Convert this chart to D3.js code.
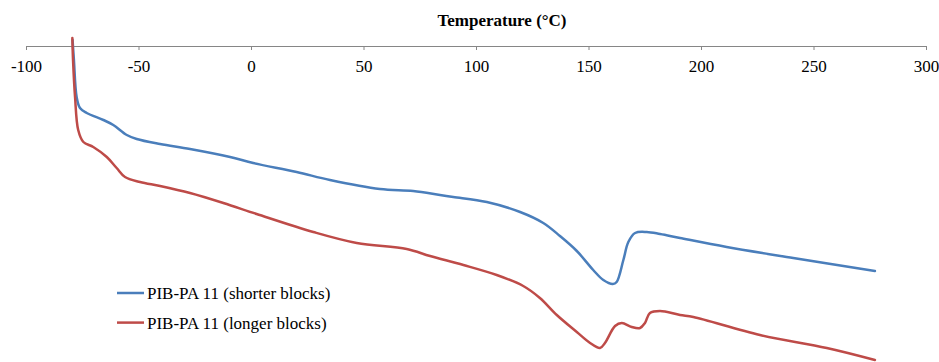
<!DOCTYPE html>
<html>
<head>
<meta charset="utf-8">
<script src="https://cdn.jsdelivr.net/npm/d3@7"></script>
<style>
  html, body { margin: 0; padding: 0; background: #fff; }
  svg { display: block; }
</style>
</head>
<body>
<svg id="chart" width="939" height="362"></svg>
<script>
// DSC traces: temperature (°C) vs. heat flow (arbitrary units, endo down)
const shorterTemp = [-79.3, -78.7, -77.5, -76, -73, -65.6, -61.2, -55.2, -50.8, -40.4, -27.1, -9.3, 1.0, 20.3, 35.1, 57.3, 72.1, 84, 89.9, 104.8, 119.6, 129.9, 137.3, 144.8, 152.1, 156.6, 160.8, 162.5, 165.5, 167.7, 170.7, 175.9, 181.8, 190.7, 211.4, 241, 277.3];
const shorterFlow = [0.06, -0.14, -0.51, -0.62, -0.67, -0.74, -0.79, -0.89, -0.93, -0.98, -1.03, -1.11, -1.17, -1.26, -1.34, -1.43, -1.45, -1.49, -1.51, -1.56, -1.66, -1.77, -1.90, -2.05, -2.24, -2.34, -2.38, -2.36, -2.14, -1.96, -1.87, -1.86, -1.88, -1.92, -2.01, -2.12, -2.25];

const longerTemp = [-79.4, -79.1, -78.2, -76.8, -74.5, -70.1, -64.1, -59.7, -56, -49.3, -40.4, -27.1, -12.3, 2.5, 27.7, 47, 69.2, 79.6, 94.4, 109.2, 121, 128.4, 135.9, 144.8, 150.7, 155.1, 157.3, 161.8, 164.8, 169.2, 172.9, 175.1, 177.3, 181.8, 190.7, 196.6, 226.2, 255.9, 277.3];
const longerFlow = [0.08, -0.14, -0.51, -0.84, -0.96, -1.01, -1.11, -1.22, -1.31, -1.36, -1.40, -1.47, -1.57, -1.68, -1.86, -1.97, -2.03, -2.10, -2.19, -2.29, -2.40, -2.52, -2.69, -2.86, -2.97, -3.02, -2.97, -2.80, -2.77, -2.81, -2.82, -2.77, -2.67, -2.65, -2.69, -2.71, -2.89, -3.02, -3.14];

const tempTicks = [-100, -50, 0, 50, 100, 150, 200, 250, 300];
const seriesNames = ["PIB-PA 11 (shorter blocks)", "PIB-PA 11 (longer blocks)"];
const seriesColors = ["#4a7ebb", "#be4b48"];

const SERIF = "Liberation Serif";
const svg = d3.select("#chart");

const x = d3.scaleLinear().domain([-100, 300]).range([26, 926]);
const y = d3.scaleLinear().domain([0, -3.16]).range([46, 362]);

// Top temperature axis
const axis = d3.axisBottom(x)
  .tickValues(tempTicks)
  .tickFormat(d => d < 0 ? "-" + Math.abs(d) : String(d))
  .tickSizeInner(4)
  .tickSizeOuter(0)
  .tickPadding(10);

const gAxis = svg.append("g")
  .attr("transform", `translate(0,${y(0)})`)
  .call(axis);
gAxis.select(".domain").attr("stroke", "#868686").attr("stroke-width", 1);
gAxis.selectAll(".tick line").attr("stroke", "#868686");
gAxis.selectAll(".tick text")
  .attr("fill", "#000")
  .style("font-family", SERIF)
  .style("font-size", "17px");

svg.append("text")
  .attr("x", 502)
  .attr("y", 26)
  .attr("text-anchor", "middle")
  .style("font-family", SERIF)
  .style("font-size", "17px")
  .style("font-weight", "bold")
  .text("Temperature (°C)");

// Traces
const series = [
  shorterTemp.map((t, i) => [t, shorterFlow[i]]),
  longerTemp.map((t, i) => [t, longerFlow[i]])
];

const line = d3.line()
  .x(d => x(d[0]))
  .y(d => y(d[1]))
  .curve(d3.curveCatmullRom.alpha(0.5));

series.forEach((pts, i) => {
  svg.append("path")
    .datum(pts)
    .attr("fill", "none")
    .attr("stroke", seriesColors[i])
    .attr("stroke-width", 2.5)
    .attr("stroke-linecap", "round")
    .attr("stroke-linejoin", "round")
    .attr("d", line);
});

// Legend
const legend = svg.append("g").attr("transform", "translate(117,293)");
seriesNames.forEach((name, i) => {
  const g = legend.append("g").attr("transform", `translate(0,${i * 29.6})`);
  g.append("line")
    .attr("x1", 0).attr("x2", 27)
    .attr("y1", 0).attr("y2", 0)
    .attr("stroke", seriesColors[i])
    .attr("stroke-width", 2.5);
  g.append("text")
    .attr("x", 30)
    .attr("y", 6.3)
    .style("font-family", SERIF)
    .style("font-size", "17px")
    .attr("fill", "#000")
    .text(name);
});
</script>
</body>
</html>
